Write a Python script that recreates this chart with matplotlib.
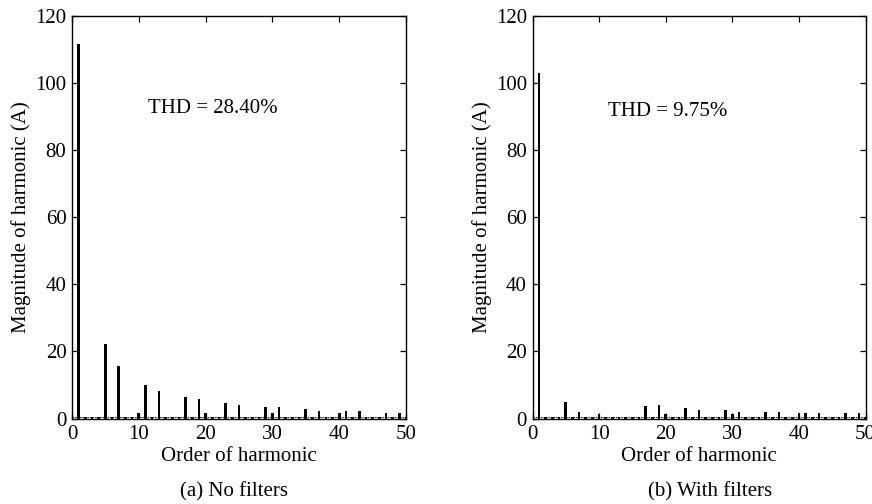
import matplotlib
matplotlib.use("Agg")
import matplotlib.pyplot as plt
import numpy as np

plt.rcParams['font.family'] = ['Liberation Serif', 'DejaVu Serif']
plt.rcParams['mathtext.fontset'] = 'stix'

# Harmonic orders and magnitudes (A)
orders_a = [1, 5, 7, 10, 11, 13, 17, 19, 20, 23, 25, 29, 30, 31, 35, 37, 40, 41, 43, 47, 49]
mags_a = [111.6, 22.2, 15.8, 1.5, 9.9, 8.3, 6.3, 5.8, 1.5, 4.7, 4.0, 3.3, 1.5, 3.3,
          2.8, 2.2, 1.5, 2.2, 2.2, 1.7, 1.7]

orders_b = [1, 5, 7, 10, 17, 19, 20, 23, 25, 29, 30, 31, 35, 37, 40, 41, 43, 47, 49]
mags_b = [103.0, 5.0, 2.0, 1.3, 3.8, 4.0, 1.3, 3.2, 2.5, 2.5, 1.3, 2.0, 2.0, 2.0,
          1.5, 1.5, 1.5, 1.5, 1.5]

# small residual magnitudes at remaining orders
floor_level = 0.4

thd_a = "THD = 28.40%"
thd_b = "THD = 9.75%"
captions = ["(a) No filters", "(b) With filters"]
xlabel = "Order of harmonic"
ylabel = "Magnitude of harmonic (A)"
xticks = [0, 10, 20, 30, 40, 50]
yticks = [0, 20, 40, 60, 80, 100, 120]

W, H = 872, 504
fig = plt.figure(figsize=(W / 100, H / 100), dpi=100)

axes_px = [(72, 406), (532.5, 865.5)]
top_px, bot_px = 16, 418.5
FS = 15

panels = [(orders_a, mags_a, thd_a, 11.4, 92.5),
          (orders_b, mags_b, thd_b, 11.4, 91.5)]

for i, ((l, r), (orders, mags, thd, tx, ty)) in enumerate(zip(axes_px, panels)):
    ax = fig.add_axes([l / W, (H - bot_px) / H, (r - l) / W, (bot_px - top_px) / H])
    all_orders = np.arange(1, 51)
    rest = [o for o in all_orders if o not in orders]
    ax.bar(rest, [floor_level] * len(rest), width=0.4, color='black', linewidth=0)
    ax.bar(orders, mags, width=0.4, color='black', linewidth=0)
    ax.axhline(floor_level, color='black', lw=0.6, ls=(0, (2, 1)))
    ax.set_xlim(0, 50)
    ax.set_ylim(0, 120)
    ax.set_xticks(xticks)
    ax.set_yticks(yticks)
    ax.tick_params(direction='in', length=4, width=0.9, top=True, right=True,
                   labelsize=FS, colors='black')
    ax.tick_params(axis='x', pad=5)
    ax.tick_params(axis='y', pad=4)
    for s in ax.spines.values():
        s.set_linewidth(1.0)
    ax.set_xlabel(xlabel, fontsize=FS, labelpad=2)
    ax.set_ylabel(ylabel, fontsize=FS, labelpad=3)
    ax.text(tx, ty, thd, fontsize=FS, ha='left', va='center')

fig.text(234 / W, 1 - 492 / H, captions[0], fontsize=FS, ha='center', va='center')
fig.text(710 / W, 1 - 492 / H, captions[1], fontsize=FS, ha='center', va='center')

fig.savefig("out.png", dpi=100)
